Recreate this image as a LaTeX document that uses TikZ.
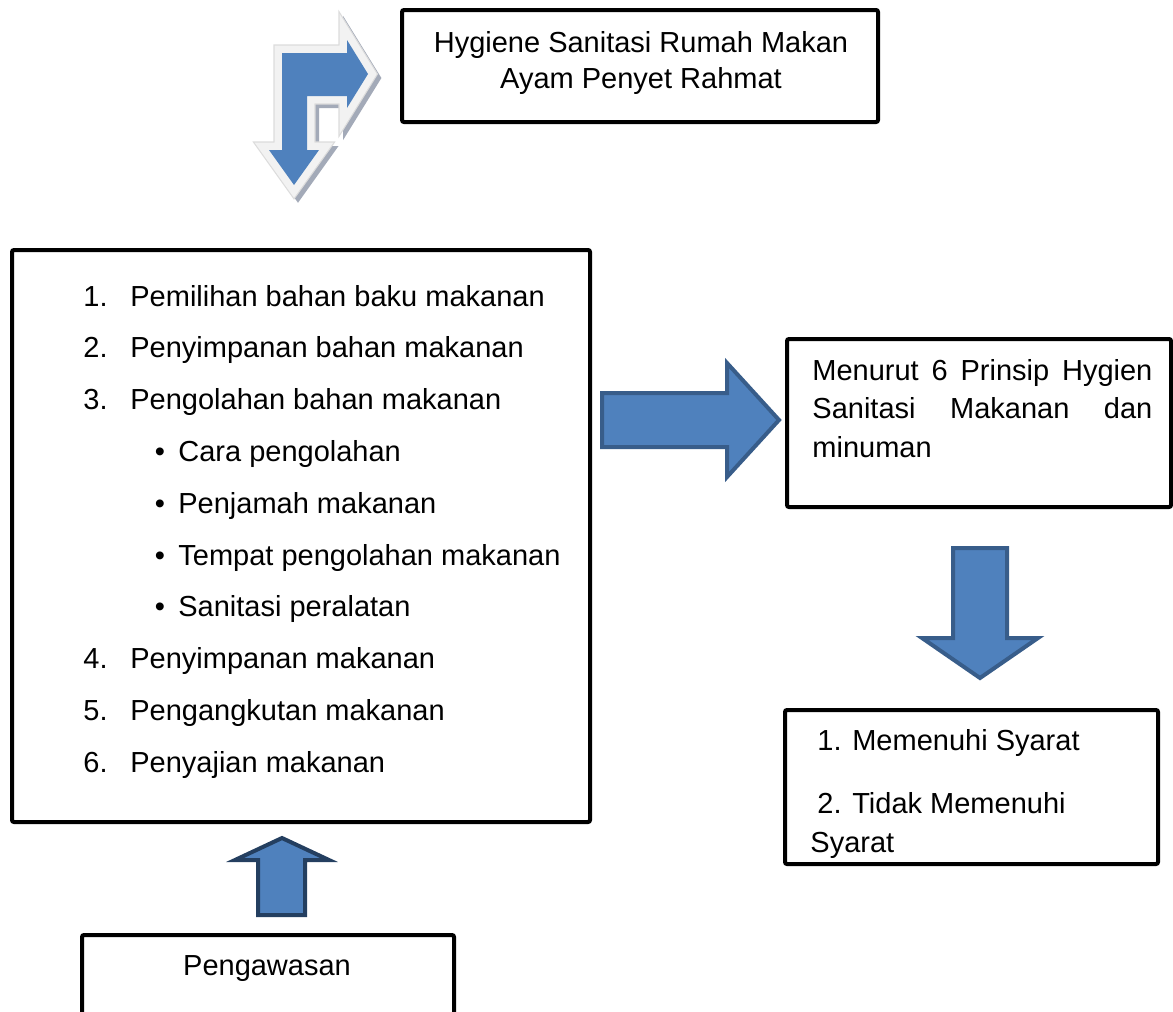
\documentclass[tikz,border=0pt]{standalone}
\usepackage{fontspec}
\setmainfont{Liberation Sans}
\usepackage{tikz}
\usetikzlibrary{positioning,calc}
\definecolor{hsBlue}{HTML}{4F81BD}
\definecolor{hsEdge}{HTML}{385D8A}
\definecolor{hsDark}{HTML}{243F60}
\definecolor{hsGlow}{HTML}{F2F2F2}
\definecolor{hsRim}{HTML}{DCDCDC}
\definecolor{hsShade}{HTML}{A3AAB8}
\tikzset{
  hsbox/.style={draw, line width=2pt, rounded corners=1pt, fill=white, inner sep=0pt},
  hstext/.style={font=\fontsize{14.5}{18}\selectfont, inner sep=0pt, anchor=base west},
  hsmid/.style={hstext, anchor=base},
  blockarrow/.style={fill=hsBlue, draw=hsEdge, line width=2pt, line join=miter},
  bentpath/.style={insert path={(282,53) -- (347,53) -- (347,40) -- (368,74) -- (347,108)
    -- (347,96) -- (307,96) -- (307,150) -- (319,150) -- (294,185) -- (269,150)
    -- (282,150) -- cycle}}
}
\begin{document}
\begin{tikzpicture}[x=0.5pt, y=-0.5pt]
  \clip (0,0) rectangle (1173,1012);
  % boxes
  \node[hsbox, minimum width=238pt, minimum height=56pt] (title) at (640,66) {};
  \node[hsbox, minimum width=289pt, minimum height=286pt] (steps) at (301,536) {};
  \node[hsbox, minimum width=192pt, minimum height=84pt] (rule) at (979,423) {};
  \node[hsbox, minimum width=186.5pt, minimum height=77pt] (result) at (971.5,787) {};
  \node[hsbox, minimum width=186pt, minimum height=52.5pt] (watch) at (268,987.5) {};
  % title text
  \node[hsmid] (title1) at (641,53) {Hygiene Sanitasi Rumah Makan};
  \node[hsmid] (title2) at (641,88) {Ayam Penyet Rahmat};
  % numbered steps
  \foreach \num/\txt/\row in {1/Pemilihan bahan baku makanan/0, 2/Penyimpanan bahan makanan/1,
      3/Pengolahan bahan makanan/2, 4/Penyimpanan makanan/7, 5/Pengangkutan makanan/8,
      6/Penyajian makanan/9} {
    \node[hstext] (num\num) at (83,{306+51.8*\row}) {\num.};
    \node[hstext] (item\num) at (130,{306+51.8*\row}) {\txt};
  }
  % sub steps of 3
  \foreach \txt [count=\k] in {Cara pengolahan, Penjamah makanan, Tempat pengolahan makanan,
      Sanitasi peralatan} {
    \node[hsmid] (dot\k) at (160,{306+51.8*(2+\k)}) {\textbullet};
    \node[hstext] (sub\k) at (178,{306+51.8*(2+\k)}) {\txt};
  }
  % principle text
  \node[hstext] (rule1) at (812,380) {\makebox[170pt][s]{Menurut 6 Prinsip Hygien}};
  \node[hstext] (rule2) at (812,418) {\makebox[170pt][s]{Sanitasi Makanan dan}};
  \node[hstext] (rule3) at (812,457) {minuman};
  % result text
  \node[hstext] (res1) at (817,750) {1. Memenuhi Syarat};
  \node[hstext] (res2) at (817,813) {2. Tidak Memenuhi};
  \node[hstext] (res3) at (810,852) {Syarat};
  \node[hsmid] (watchtxt) at (267,975) {Pengawasan};
  % block arrows
  \draw[blockarrow] (602,393) -- (727,393) -- (727,363) -- (779,420) -- (727,477)
    -- (727,447) -- (602,447) -- cycle;
  \draw[blockarrow] (953,548) -- (1007,548) -- (1007,638) -- (1038,638) -- (980,678)
    -- (922,638) -- (953,638) -- cycle;
  \draw[blockarrow, draw=hsDark] (258,915) -- (305,915) -- (305,860) -- (329,860)
    -- (282,838) -- (235,860) -- (258,860) -- cycle;
  % bent arrow with glow and shadow
  \begin{scope}[shift={(4,4)}]
    \filldraw[hsShade, line width=8pt, line join=miter, bentpath];
  \end{scope}
  \filldraw[hsRim, line width=8.6pt, line join=miter, bentpath];
  \filldraw[hsGlow, line width=7.4pt, line join=miter, bentpath];
  \fill[hsBlue, bentpath];
\end{tikzpicture}
\end{document}
